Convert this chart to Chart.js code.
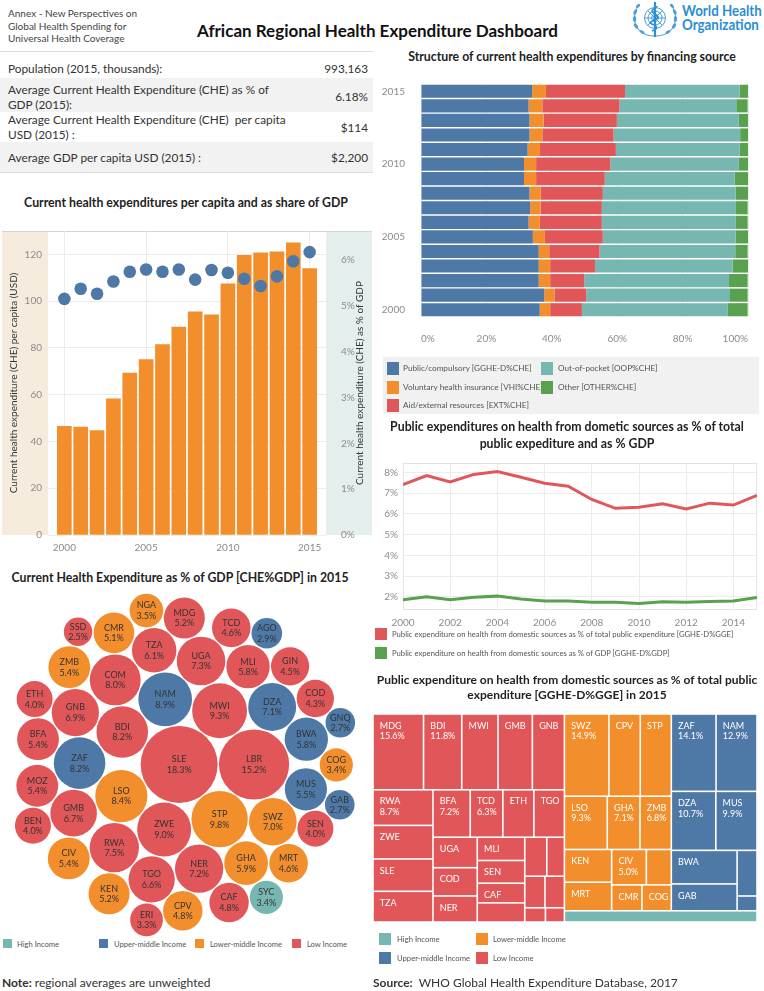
<!DOCTYPE html>
<html>
<head>
<meta charset="utf-8">
<script src="https://cdn.jsdelivr.net/npm/chart.js@4.4.1/dist/chart.umd.min.js"></script>
<style>
  body { margin: 0; background: #fff; font-family: Lato, 'Open Sans', sans-serif; color: #333; }
  #page { position: relative; width: 764px; height: 991px; overflow: hidden; }
  .abs { position: absolute; }
  canvas { position: absolute; }
  .ttl { position: absolute; font-weight: bold; font-size: 12.3px; color: #222; text-align: center; white-space: nowrap; }
  .row { position: absolute; left: 0; width: 373px; display: flex; align-items: center; justify-content: space-between; box-sizing: border-box; padding: 0 5px 0 8px; font-size: 11.8px; line-height: 15px; color: #333; }
  .row.gray { background: #f2f2f2; }
  .lg { position: absolute; font-size: 8.2px; color: #555; white-space: nowrap; line-height: 12px; }
  .sw { position: absolute; }
</style>
</head>
<body>
<div id="page">
  <div class="abs" style="left:8px;top:7px;font-size:10px;line-height:12.7px;color:#444;">Annex - New Perspectives on<br>Global Health Spending for<br>Universal Health Coverage</div>
  <div class="abs" style="left:197px;top:20px;font-size:17px;font-weight:bold;color:#111;white-space:nowrap;">African Regional Health Expenditure Dashboard</div>

  <svg class="abs" style="left:630px;top:0px" width="52" height="40" viewBox="0 0 52 40">
    <g fill="none" stroke="#4d9fdb" stroke-width="1">
      <circle cx="25" cy="18" r="10.5"/>
      <circle cx="25" cy="18" r="7"/>
      <circle cx="25" cy="18" r="3.5"/>
      <line x1="14.5" y1="18" x2="35.5" y2="18"/>
      <line x1="17.6" y1="10.6" x2="32.4" y2="25.4"/>
      <line x1="32.4" y1="10.6" x2="17.6" y2="25.4"/>
      <path d="M9 30 C3 24 3 12 9 5"/>
      <path d="M41 30 C47 24 47 12 41 5"/>
      <path d="M9 30 C14 35 20 36 25 36 C30 36 36 35 41 30"/>
    </g>
    <g fill="#4d9fdb">
      <ellipse cx="6" cy="26" rx="1.6" ry="3" transform="rotate(-30 6 26)"/>
      <ellipse cx="4.6" cy="19" rx="1.6" ry="3"/>
      <ellipse cx="5.2" cy="12" rx="1.6" ry="3" transform="rotate(25 5.2 12)"/>
      <ellipse cx="8" cy="6" rx="1.5" ry="2.6" transform="rotate(45 8 6)"/>
      <ellipse cx="44" cy="26" rx="1.6" ry="3" transform="rotate(30 44 26)"/>
      <ellipse cx="45.4" cy="19" rx="1.6" ry="3"/>
      <ellipse cx="44.8" cy="12" rx="1.6" ry="3" transform="rotate(-25 44.8 12)"/>
      <ellipse cx="42" cy="6" rx="1.5" ry="2.6" transform="rotate(-45 42 6)"/>
      <ellipse cx="12" cy="32" rx="1.5" ry="2.8" transform="rotate(-60 12 32)"/>
      <ellipse cx="38" cy="32" rx="1.5" ry="2.8" transform="rotate(60 38 32)"/>
    </g>
    <line x1="25" y1="2" x2="25" y2="37" stroke="#2f8fd3" stroke-width="2.2"/>
    <path d="M22 31 C28 29 28 26 22 24 C16 22 28 20 28 17 C28 14 22 14 22 11 C22 8 27 8 27 6" fill="none" stroke="#2f8fd3" stroke-width="1.6"/>
  </svg>
  <div class="abs" style="left:682px;top:4px;font-size:15.5px;line-height:13.5px;font-weight:bold;color:#2a8dd4;white-space:nowrap;transform:scaleX(0.86);transform-origin:0 0;">World Health<br>Organization</div>

  <div class="abs" style="left:0;top:51px;width:373px;height:1px;background:#ddd;"></div>
  <div class="row" style="top:58px;height:20px;"><span>Population (2015, thousands):</span><span>993,163</span></div>
  <div class="row gray" style="top:78px;height:34px;padding-top:3px;"><span>Average Current Health Expenditure (CHE) as % of<br>GDP (2015):</span><span>6.18%</span></div>
  <div class="row" style="top:112px;height:30px;"><span>Average Current Health Expenditure (CHE)&nbsp; per capita<br>USD (2015) :</span><span>$114</span></div>
  <div class="row gray" style="top:142px;height:30px;"><span>Average GDP per capita USD (2015) :</span><span>$2,200</span></div>
  <div class="abs" style="left:0;top:172px;width:373px;height:1px;background:#ddd;"></div>

  <div class="ttl" style="left:0;width:372px;top:195px;">Current health expenditures per capita and as share of GDP</div>
  <canvas id="cheChart" width="370" height="340" style="left:2px;top:218px;"></canvas>

  <div class="ttl" style="left:380px;width:384px;top:49px;">Structure of current health expenditures by financing source</div>
  <canvas id="srcChart" width="384" height="280" style="left:380px;top:70px;"></canvas>
  <div class="abs" style="left:383px;top:357px;width:376px;height:57px;background:#f1f1f1;"></div>
  <div class="sw" style="left:387px;top:362px;width:12px;height:13px;background:#4e79a7;"></div>
  <div class="lg" style="left:403px;top:362px;">Public/compulsory [GGHE-D%CHE]</div>
  <div class="sw" style="left:387px;top:381px;width:12px;height:13px;background:#f28e2b;"></div>
  <div class="lg" style="left:403px;top:381px;">Voluntary health insurance [VHI%CHE]</div>
  <div class="sw" style="left:387px;top:399px;width:12px;height:13px;background:#e15759;"></div>
  <div class="lg" style="left:403px;top:399px;">Aid/external resources [EXT%CHE]</div>
  <div class="sw" style="left:541px;top:362px;width:12px;height:13px;background:#76b7b2;"></div>
  <div class="lg" style="left:558px;top:362px;">Out-of-pocket [OOP%CHE]</div>
  <div class="sw" style="left:541px;top:381px;width:12px;height:13px;background:#59a14f;"></div>
  <div class="lg" style="left:558px;top:381px;">Other [OTHER%CHE]</div>

  <div class="ttl" style="left:370px;width:394px;top:418px;line-height:17px;">Public expenditures on health from dometic sources as % of total<br>public expediture and as % GDP</div>
  <canvas id="lineChart" width="394" height="178" style="left:370px;top:452px;"></canvas>
  <div class="sw" style="left:375px;top:628px;width:12px;height:12px;background:#e15759;"></div>
  <div class="lg" style="left:392px;top:628px;font-size:7.7px;">Public expenditure on health from domestic sources as % of total public expenditure [GGHE-D%GGE]</div>
  <div class="sw" style="left:375px;top:647px;width:12px;height:12px;background:#59a14f;"></div>
  <div class="lg" style="left:392px;top:647px;font-size:7.7px;">Public expenditure on health from domestic sources as % of GDP [GGHE-D%GDP]</div>

  <div class="ttl" style="left:0;width:360px;top:570px;">Current Health Expenditure as % of GDP [CHE%GDP] in 2015</div>
  <canvas id="bubbleChart" width="370" height="346" style="left:0px;top:592px;"></canvas>
  <div class="sw" style="left:3px;top:939px;width:9px;height:9px;background:#76b7b2;"></div>
  <div class="lg" style="left:17px;top:938px;font-size:7.6px;">High Income</div>
  <div class="sw" style="left:99px;top:939px;width:9px;height:9px;background:#4e79a7;"></div>
  <div class="lg" style="left:114px;top:938px;font-size:7.6px;">Upper-middle Income</div>
  <div class="sw" style="left:195px;top:939px;width:9px;height:9px;background:#f28e2b;"></div>
  <div class="lg" style="left:210px;top:938px;font-size:7.6px;">Lower-middle Income</div>
  <div class="sw" style="left:292px;top:939px;width:9px;height:9px;background:#e15759;"></div>
  <div class="lg" style="left:307px;top:938px;font-size:7.6px;">Low Income</div>

  <div class="ttl" style="left:370px;width:394px;top:672px;line-height:15px;font-size:12px;">Public expenditure on health from domestic sources as % of total public<br>expenditure [GGHE-D%GGE] in 2015</div>
  <canvas id="treeChart" width="384" height="208" style="left:373px;top:714px;"></canvas>
  <div class="sw" style="left:379px;top:933px;width:12px;height:12px;background:#76b7b2;"></div>
  <div class="lg" style="left:397px;top:933px;font-size:7.7px;">High Income</div>
  <div class="sw" style="left:476px;top:933px;width:12px;height:12px;background:#f28e2b;"></div>
  <div class="lg" style="left:493px;top:933px;font-size:7.7px;">Lower-middle Income</div>
  <div class="sw" style="left:379px;top:952px;width:12px;height:12px;background:#4e79a7;"></div>
  <div class="lg" style="left:397px;top:952px;font-size:7.7px;">Upper-middle Income</div>
  <div class="sw" style="left:476px;top:952px;width:12px;height:12px;background:#e15759;"></div>
  <div class="lg" style="left:493px;top:952px;font-size:7.7px;">Low Income</div>

  <div class="abs" style="left:2px;top:975px;font-size:12px;color:#333;white-space:nowrap;"><b>Note:</b> regional averages are unweighted</div>
  <div class="abs" style="left:373px;top:975px;font-size:12px;color:#333;white-space:nowrap;"><b>Source:</b>&nbsp; WHO Global Health Expenditure Database, 2017</div>
</div>

<script>
// ===== data =====
const years = [2000, 2001, 2002, 2003, 2004, 2005, 2006, 2007, 2008, 2009, 2010, 2011, 2012, 2013, 2014, 2015];

// CHE per capita (USD) and CHE as % of GDP
const chePerCapita = [46.5, 46.1, 44.7, 58.2, 69.2, 75.0, 81.4, 88.9, 95.4, 94.2, 107.4, 119.6, 120.7, 121.1, 124.9, 113.9];
const cheShareGdp = [5.15, 5.37, 5.26, 5.53, 5.74, 5.79, 5.74, 5.79, 5.57, 5.78, 5.72, 5.59, 5.43, 5.64, 5.97, 6.17];
const cheTicks = [0, 20, 40, 60, 80, 100, 120];
const gdpTicks = [0, 1, 2, 3, 4, 5, 6];
const yearTicks = [2000, 2005, 2010, 2015];

// financing source shares (% of CHE)
const srcPublic = [36.3, 37.7, 36.0, 36.0, 36.0, 34.2, 32.9, 33.4, 33.2, 31.5, 31.5, 32.6, 33.2, 33.2, 32.9, 34.0];
const srcVhi    = [3.2, 3.1, 3.5, 3.5, 3.2, 3.7, 3.4, 3.2, 3.4, 3.7, 3.7, 3.8, 3.9, 4.3, 4.2, 4.2];
const srcExt    = [9.7, 9.7, 10.4, 13.7, 15.4, 17.7, 19.0, 18.7, 19.0, 21.0, 22.7, 23.2, 21.8, 22.4, 23.6, 24.2];
const srcOop    = [44.5, 44.0, 44.3, 42.1, 41.5, 40.6, 41.0, 41.0, 40.6, 39.7, 39.3, 37.9, 38.7, 37.3, 35.7, 35.0];
const srcOther  = [6.2, 5.4, 5.7, 4.7, 3.8, 3.8, 3.6, 3.6, 4.1, 4.1, 2.8, 2.5, 2.5, 2.8, 3.5, 2.6];
const shareTicks = [0, 20, 40, 60, 80, 100];

// domestic public health spending
const ggheShareGge = [7.42, 7.85, 7.54, 7.91, 8.05, 7.77, 7.48, 7.34, 6.70, 6.27, 6.32, 6.49, 6.24, 6.52, 6.43, 6.89];
const ggheShareGdp = [1.85, 2.00, 1.86, 1.97, 2.03, 1.89, 1.79, 1.79, 1.73, 1.73, 1.68, 1.76, 1.73, 1.77, 1.80, 1.97];
const pctTicks = [2, 3, 4, 5, 6, 7, 8];
const evenYearTicks = [2000, 2002, 2004, 2006, 2008, 2010, 2012, 2014];

// income groups
const incomeColors = { L: '#e15759', LM: '#f28e2b', UM: '#4e79a7', H: '#76b7b2' };

// CHE % GDP 2015 by country
const bubbleCodes  = ['SLE', 'LBR', 'STP', 'MWI', 'ZWE', 'NAM', 'LSO', 'BDI', 'ZAF', 'COM', 'RWA', 'UGA', 'NER', 'DZA', 'SWZ', 'GNB', 'GMB', 'TGO', 'TZA', 'GHA', 'MLI', 'BWA', 'MUS', 'BFA', 'MOZ', 'CIV', 'ZMB', 'MDG', 'KEN', 'CMR', 'CPV', 'CAF', 'TCD', 'MRT', 'GIN', 'COD', 'SEN', 'BEN', 'ETH', 'NGA', 'COG', 'SYC', 'ERI', 'AGO', 'GAB', 'GNQ', 'SSD'];
const bubbleValues = [18.3, 15.2, 9.8, 9.3, 9.0, 8.9, 8.4, 8.2, 8.2, 8.0, 7.5, 7.3, 7.2, 7.1, 7.0, 6.9, 6.7, 6.6, 6.1, 5.9, 5.8, 5.8, 5.5, 5.4, 5.4, 5.4, 5.4, 5.2, 5.2, 5.1, 4.8, 4.8, 4.6, 4.6, 4.5, 4.3, 4.0, 4.0, 4.0, 3.5, 3.4, 3.4, 3.3, 2.9, 2.7, 2.7, 2.5];
const bubbleIncome = ['L', 'L', 'LM', 'L', 'L', 'UM', 'LM', 'L', 'UM', 'L', 'L', 'L', 'L', 'UM', 'LM', 'L', 'L', 'L', 'L', 'LM', 'L', 'UM', 'UM', 'L', 'L', 'LM', 'LM', 'L', 'LM', 'LM', 'LM', 'L', 'L', 'LM', 'L', 'L', 'L', 'L', 'L', 'LM', 'LM', 'H', 'L', 'UM', 'UM', 'UM', 'L'];

// GGHE-D % GGE 2015 by country
const treeCodes  = ['MDG', 'BDI', 'MWI', 'GMB', 'GNB', 'RWA', 'ZWE', 'SLE', 'TZA', 'BFA', 'TCD', 'ETH', 'TGO', 'UGA', 'COD', 'NER', 'MLI', 'SEN', 'CAF', 'BEN', 'GIN', 'LBR', 'MOZ', 'COM', 'ERI', 'SSD',
                    'SWZ', 'CPV', 'STP', 'LSO', 'GHA', 'ZMB', 'KEN', 'MRT', 'CIV', 'NGA', 'CMR', 'COG',
                    'ZAF', 'NAM', 'DZA', 'MUS', 'BWA', 'GAB', 'AGO', 'GNQ',
                    'SYC'];
const treeValues = [15.6, 11.8, 11.2, 10.6, 9.9, 8.7, 8.2, 7.9, 7.5, 7.2, 6.3, 6.0, 5.9, 5.5, 5.1, 4.7, 4.5, 4.4, 3.8, 3.7, 3.5, 2.8, 2.6, 2.5, 1.2, 1.1,
                    14.9, 10.5, 10.4, 9.3, 7.1, 6.8, 6.3, 5.5, 5.0, 3.6, 3.2, 3.1,
                    14.1, 12.9, 10.7, 9.9, 9.0, 7.2, 3.7, 1.2,
                    8.8];
const treeIncome = ['L', 'L', 'L', 'L', 'L', 'L', 'L', 'L', 'L', 'L', 'L', 'L', 'L', 'L', 'L', 'L', 'L', 'L', 'L', 'L', 'L', 'L', 'L', 'L', 'L', 'L',
                    'LM', 'LM', 'LM', 'LM', 'LM', 'LM', 'LM', 'LM', 'LM', 'LM', 'LM', 'LM',
                    'UM', 'UM', 'UM', 'UM', 'UM', 'UM', 'UM', 'UM',
                    'H'];
const treeShownValues = ['MDG', 'BDI', 'RWA', 'BFA', 'TCD', 'SWZ', 'LSO', 'GHA', 'ZMB', 'CIV', 'ZAF', 'NAM', 'DZA', 'MUS'];

// ===== common =====
Chart.defaults.font.family = 'Lato, "Open Sans", sans-serif';
Chart.defaults.animation = false;
Chart.defaults.events = [];
Chart.defaults.plugins.legend.display = false;
Chart.defaults.plugins.tooltip.enabled = false;
Chart.defaults.layout.autoPadding = false;

const setTicks = list => scale => { scale.ticks = list.map(v => ({ value: v })); };
const tickFont = { size: 10 };
const tickColor = '#8c8c8c';
const gridColor = '#ececec';

// ===== CHE per capita & % GDP =====
const bandPlugin = {
    id: 'bands',
    beforeDraw(chart) {
        const { ctx, chartArea: a, width } = chart;
        ctx.save();
        ctx.fillStyle = '#f5ecde';
        ctx.fillRect(0, a.top, a.left, a.bottom - a.top);
        ctx.fillStyle = '#e4efed';
        ctx.fillRect(a.right, a.top, width - a.right, a.bottom - a.top);
        ctx.strokeStyle = '#d4d4d4';
        ctx.beginPath();
        ctx.moveTo(0, a.top + 0.5);
        ctx.lineTo(width, a.top + 0.5);
        ctx.stroke();
        ctx.restore();
    },
    afterDraw(chart) {
        const { ctx, chartArea: a } = chart;
        const mid = (a.top + a.bottom) / 2;
        const titles = [[11.5, 'Current health expenditure (CHE) per capita (USD)'], [358, 'Current health expenditure (CHE) as % of GDP']];
        titles.forEach(([x, text]) => {
            ctx.save();
            ctx.font = '10px Lato';
            ctx.fillStyle = '#333';
            ctx.textAlign = 'center';
            ctx.textBaseline = 'middle';
            ctx.translate(x, mid);
            ctx.rotate(-Math.PI / 2);
            ctx.fillText(text, 0, 0);
            ctx.restore();
        });
    }
};

new Chart(document.getElementById('cheChart'), {
    type: 'bar',
    data: {
        datasets: [{
            type: 'scatter',
            data: years.map((y, i) => ({ x: y, y: cheShareGdp[i] })),
            yAxisID: 'y1',
            backgroundColor: '#4e79a7',
            borderWidth: 0,
            pointRadius: 6.3,
            order: 0
        }, {
            type: 'bar',
            data: years.map((y, i) => ({ x: y, y: chePerCapita[i] })),
            yAxisID: 'y',
            backgroundColor: '#f28e2b',
            barThickness: 14,
            order: 1
        }]
    },
    options: {
        responsive: false,
        devicePixelRatio: 1,
        layout: { padding: { top: 3 } },
        scales: {
            x: {
                type: 'linear', min: 1999, max: 2016, offset: false,
                afterBuildTicks: setTicks(yearTicks),
                afterFit: s => { s.height = 23; },
                grid: { color: gridColor, drawTicks: false, offset: false },
                border: { display: false },
                ticks: { font: tickFont, color: tickColor, padding: 7, callback: v => String(v) }
            },
            y: {
                position: 'left', min: 0, max: 130,
                afterBuildTicks: setTicks(cheTicks),
                afterFit: s => { s.width = 46; },
                grid: { color: gridColor, drawTicks: false },
                border: { display: false },
                ticks: { font: tickFont, color: tickColor, padding: 6 }
            },
            y1: {
                position: 'right', min: 0, max: 6.63,
                afterBuildTicks: setTicks(gdpTicks),
                afterFit: s => { s.width = 46; },
                grid: { display: false },
                border: { display: false },
                ticks: { font: tickFont, color: tickColor, padding: 7, callback: v => v + '%' }
            }
        }
    },
    plugins: [bandPlugin]
});

// ===== structure by financing source =====
new Chart(document.getElementById('srcChart'), {
    type: 'bar',
    data: {
        labels: years,
        datasets: [
            { data: srcPublic, backgroundColor: '#4e79a7' },
            { data: srcVhi, backgroundColor: '#f28e2b' },
            { data: srcExt, backgroundColor: '#e15759' },
            { data: srcOop, backgroundColor: '#76b7b2' },
            { data: srcOther, backgroundColor: '#59a14f' }
        ]
    },
    options: {
        responsive: false,
        devicePixelRatio: 1,
        indexAxis: 'y',
        datasets: { bar: { barPercentage: 0.9, categoryPercentage: 1 } },
        layout: { padding: { top: 3, right: 5 } },
        scales: {
            x: {
                stacked: true, min: 0, max: 100,
                afterBuildTicks: setTicks(shareTicks),
                afterFit: s => { s.height = 33; },
                grid: { color: gridColor, drawTicks: false },
                border: { display: false },
                ticks: { font: tickFont, color: tickColor, padding: 16, align: 'inner', callback: v => v + '%' }
            },
            y: {
                stacked: true, reverse: true,
                afterFit: s => { s.width = 41; },
                grid: { display: false },
                border: { display: false },
                ticks: {
                    font: tickFont, color: tickColor, padding: 8, autoSkip: false,
                    callback: (v, i) => years[i] % 5 === 0 ? String(years[i]) : ''
                }
            }
        }
    }
});

// ===== domestic public spending lines =====
const framePlugin = {
    id: 'frame',
    beforeDatasetsDraw(chart) {
        const { ctx, chartArea: a } = chart;
        ctx.save();
        ctx.strokeStyle = '#e2e2e2';
        ctx.strokeRect(a.left + 0.5, a.top + 0.5, a.right - a.left - 1, a.bottom - a.top - 1);
        ctx.restore();
    }
};

new Chart(document.getElementById('lineChart'), {
    type: 'line',
    data: {
        datasets: [{
            data: years.map((y, i) => ({ x: y, y: ggheShareGge[i] })),
            borderColor: '#e15759', borderWidth: 3, pointRadius: 0, tension: 0
        }, {
            data: years.map((y, i) => ({ x: y, y: ggheShareGdp[i] })),
            borderColor: '#59a14f', borderWidth: 3, pointRadius: 0, tension: 0
        }]
    },
    options: {
        responsive: false,
        devicePixelRatio: 1,
        layout: { padding: { top: 3, right: 7 } },
        scales: {
            x: {
                type: 'linear', min: 2000, max: 2015,
                afterBuildTicks: setTicks(evenYearTicks),
                afterFit: s => { s.height = 20; },
                grid: { color: gridColor, drawTicks: false },
                border: { display: false },
                ticks: { font: tickFont, color: tickColor, padding: 7, callback: v => String(v) }
            },
            y: {
                min: 1.36, max: 8.46,
                afterBuildTicks: setTicks(pctTicks),
                afterFit: s => { s.width = 33; },
                grid: { color: gridColor, drawTicks: false },
                border: { display: false },
                ticks: { font: tickFont, color: tickColor, padding: 5, callback: v => v + '%' }
            }
        }
    },
    plugins: [framePlugin]
});

// ===== packed bubbles (CHE % GDP) =====
function packCircles(radii, gap) {
    const order = radii.map((r, i) => i).sort((a, b) => radii[b] - radii[a]);
    const placed = [];
    const out = [];
    for (const i of order) {
        const r = radii[i];
        let best = null;
        if (placed.length === 0) best = { x: 0, y: 0 };
        else if (placed.length === 1) best = { x: placed[0].r + r + gap, y: 0 };
        else {
            let bestScore = Infinity;
            for (let a = 0; a < placed.length; a++) {
                for (let b = a + 1; b < placed.length; b++) {
                    const A = placed[a], B = placed[b];
                    const ra = A.r + r + gap, rb = B.r + r + gap;
                    const dx = B.x - A.x, dy = B.y - A.y, d = Math.hypot(dx, dy);
                    if (d > ra + rb || d < Math.abs(ra - rb)) continue;
                    const l = (ra * ra - rb * rb + d * d) / (2 * d);
                    const h = Math.sqrt(Math.max(0, ra * ra - l * l));
                    const mx = A.x + l * dx / d, my = A.y + l * dy / d;
                    for (const s of [-1, 1]) {
                        const cx = mx - s * h * dy / d, cy = my + s * h * dx / d;
                        const score = cx * cx + cy * cy;
                        if (score >= bestScore) continue;
                        let ok = true;
                        for (const C of placed) {
                            if (Math.hypot(cx - C.x, cy - C.y) < C.r + r + gap - 0.01) { ok = false; break; }
                        }
                        if (ok) { bestScore = score; best = { x: cx, y: cy }; }
                    }
                }
            }
        }
        placed.push({ x: best.x, y: best.y, r });
        out[i] = { x: best.x, y: best.y, r };
    }
    return out;
}

const bubbleCanvas = document.getElementById('bubbleChart');
const bubbleRadii = bubbleValues.map(v => 9 * Math.sqrt(v));
const packed = packCircles(bubbleRadii, 1.3);
const bx0 = Math.min(...packed.map(p => p.x - p.r)), bx1 = Math.max(...packed.map(p => p.x + p.r));
const by0 = Math.min(...packed.map(p => p.y - p.r)), by1 = Math.max(...packed.map(p => p.y + p.r));
const bcx = (bx0 + bx1) / 2, bcy = (by0 + by1) / 2;

const bubbleLabels = {
    id: 'bubbleLabels',
    afterDatasetsDraw(chart) {
        const { ctx } = chart;
        const meta = chart.getDatasetMeta(0);
        ctx.save();
        ctx.font = '9px Lato';
        ctx.fillStyle = '#333';
        ctx.textAlign = 'center';
        ctx.textBaseline = 'middle';
        meta.data.forEach((el, i) => {
            ctx.fillText(bubbleCodes[i], el.x, el.y - 5);
            ctx.fillText(bubbleValues[i].toFixed(1) + '%', el.x, el.y + 5.5);
        });
        ctx.restore();
    }
};

new Chart(bubbleCanvas, {
    type: 'bubble',
    data: {
        datasets: [{
            data: packed.map(p => ({ x: p.x, y: p.y, r: p.r })),
            backgroundColor: bubbleIncome.map(g => incomeColors[g]),
            borderWidth: 0,
            clip: false
        }]
    },
    options: {
        responsive: false,
        devicePixelRatio: 1,
        scales: {
            x: { display: false, min: bcx - bubbleCanvas.width / 2, max: bcx + bubbleCanvas.width / 2 },
            y: { display: false, min: bcy - bubbleCanvas.height / 2, max: bcy + bubbleCanvas.height / 2 }
        }
    },
    plugins: [bubbleLabels]
});

// ===== treemap (GGHE-D % GGE) =====
// squarified rows; a row closes one item after it stops improving, unless that item gets too thin
function squarify(items, rect, out) {
    let { x, y, w, h } = rect;
    let i = 0;
    const worst = (row, side) => {
        const sum = row.reduce((s, it) => s + it.area, 0);
        const t = sum / side;
        return Math.max(...row.map(it => { const l = it.area / t; return Math.max(t / l, l / t); }));
    };
    while (i < items.length) {
        const horiz = w <= h;
        const side = horiz ? w : h;
        const row = [items[i++]];
        while (i < items.length) {
            const cur = worst(row, side);
            const next = worst(row.concat(items[i]), side);
            if (next <= cur) { row.push(items[i++]); continue; }
            if (next <= 3) row.push(items[i++]);
            break;
        }
        const sum = row.reduce((s, it) => s + it.area, 0);
        const t = sum / side;
        let off = 0;
        row.forEach(it => {
            const l = it.area / t;
            out.push(Object.assign({}, it, horiz ? { x0: x + off, y0: y, x1: x + off + l, y1: y + t }
                                                  : { x0: x, y0: y + off, x1: x + t, y1: y + off + l }));
            off += l;
        });
        if (horiz) { y += t; h -= t; } else { x += t; w -= t; }
    }
    return out;
}

const treeCanvas = document.getElementById('treeChart');
const TW = treeCanvas.width, TH = treeCanvas.height;
const treeTotal = treeValues.reduce((s, v) => s + v, 0);
const unitArea = TW * TH / treeTotal;
const groups = ['L', 'LM', 'UM', 'H'].map(g => {
    const idx = treeCodes.map((c, i) => i).filter(i => treeIncome[i] === g).sort((a, b) => treeValues[b] - treeValues[a]);
    return { group: g, idx, area: idx.reduce((s, i) => s + treeValues[i], 0) * unitArea };
}).sort((a, b) => b.area - a.area);
const groupRects = squarify(groups, { x: 0, y: 0, w: TW, h: TH }, []);
const treeCells = [];
groupRects.forEach(gr => {
    const items = gr.idx.map(i => ({ i, area: treeValues[i] * unitArea }));
    squarify(items, { x: gr.x0, y: gr.y0, w: gr.x1 - gr.x0, h: gr.y1 - gr.y0 }, treeCells);
});

const treePlugin = {
    id: 'treemap',
    beforeDatasetsDraw(chart) {
        const { ctx, scales: { x, y } } = chart;
        ctx.save();
        treeCells.forEach(c => {
            const px0 = x.getPixelForValue(c.x0), px1 = x.getPixelForValue(c.x1);
            const py0 = y.getPixelForValue(c.y0), py1 = y.getPixelForValue(c.y1);
            const l = Math.min(px0, px1) + 0.8, t = Math.min(py0, py1) + 0.8;
            const w = Math.abs(px1 - px0) - 1.6, h = Math.abs(py1 - py0) - 1.6;
            ctx.fillStyle = incomeColors[treeIncome[c.i]];
            ctx.fillRect(l, t, w, h);
            if (w >= 27 && h >= 18) {
                ctx.fillStyle = '#fff';
                ctx.font = '9px Lato';
                ctx.textBaseline = 'middle';
                ctx.fillText(treeCodes[c.i], l + 6, t + 11);
                if (treeShownValues.includes(treeCodes[c.i]) && h >= 30) {
                    ctx.fillText(treeValues[c.i].toFixed(1) + '%', l + 6, t + 21.5);
                }
            }
        });
        ctx.restore();
    }
};

new Chart(treeCanvas, {
    type: 'scatter',
    data: {
        datasets: [{
            data: treeCells.map(c => ({ x: (c.x0 + c.x1) / 2, y: (c.y0 + c.y1) / 2 })),
            pointRadius: 0
        }]
    },
    options: {
        responsive: false,
        devicePixelRatio: 1,
        scales: {
            x: { display: false, min: 0, max: TW },
            y: { display: false, min: 0, max: TH, reverse: true }
        }
    },
    plugins: [treePlugin]
});
</script>
</body>
</html>
